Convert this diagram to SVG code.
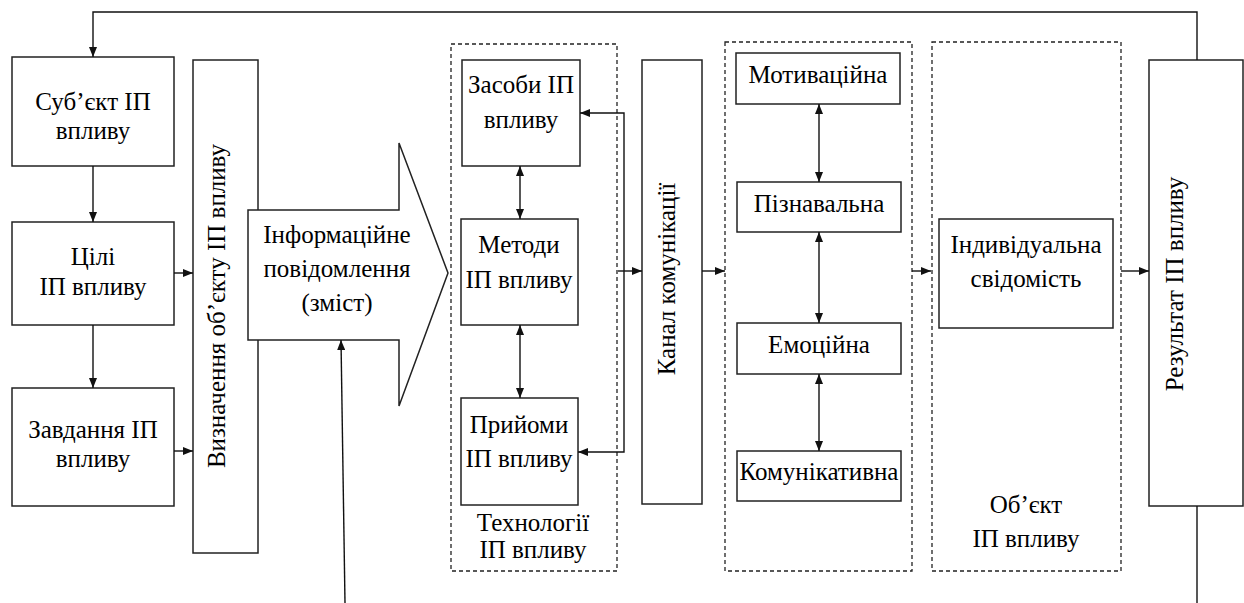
<svg xmlns="http://www.w3.org/2000/svg" width="1244" height="603" viewBox="0 0 1244 603">
<style>
.box{fill:#fff;stroke:#222;stroke-width:1.5}
.dash{fill:none;stroke:#222;stroke-width:1.3;stroke-dasharray:4 3}
.t{font-family:'Liberation Serif','Times New Roman',serif;font-size:25px;fill:#000;text-anchor:middle}
.c{fill:none;stroke:#111;stroke-width:1.4}
</style>
<defs>
<marker id="ah" markerUnits="userSpaceOnUse" markerWidth="10" markerHeight="8" refX="10" refY="4" orient="auto-start-reverse">
<path d="M0,0 L10,4 L0,8 z" fill="#111"/>
</marker>
</defs>
<rect width="1244" height="603" fill="#fff"/>

<g id="tech-group"><rect class="dash" x="451" y="44" width="166" height="527"/>
<text class="t" x="533" y="531">Технології</text><text class="t" x="533" y="558">ІП впливу</text></g>
<g id="psy-group"><rect class="dash" x="725" y="42" width="187" height="529"/></g>
<g id="object-group"><rect class="dash" x="932" y="42" width="189" height="529"/>
<text class="t" x="1026" y="513">Об’єкт</text><text class="t" x="1026" y="547">ІП впливу</text></g>

<g id="subject"><rect class="box" x="12" y="57" width="162" height="109"/>
<text class="t" x="93" y="110">Суб’єкт ІП</text><text class="t" x="93" y="139">впливу</text></g>
<g id="goals"><rect class="box" x="12" y="222" width="162" height="103"/>
<text class="t" x="93" y="265">Цілі</text><text class="t" x="93" y="295">ІП впливу</text></g>
<g id="tasks"><rect class="box" x="12" y="388" width="162" height="118"/>
<text class="t" x="93" y="438">Завдання ІП</text><text class="t" x="93" y="467">впливу</text></g>
<g id="define"><rect class="box" x="193" y="60" width="65" height="493"/>
<text class="t" transform="translate(225,306) rotate(-90)">Визначення об’єкту ІП впливу</text></g>
<g id="message"><polygon class="box" points="248,210 399,210 399,143 448,273 399,406 399,340 248,340"/>
<text class="t" x="337" y="243">Інформаційне</text><text class="t" x="337" y="277">повідомлення</text><text class="t" x="337" y="311">(зміст)</text></g>
<g id="means"><rect class="box" x="462" y="60" width="118" height="106"/>
<text class="t" x="521" y="93">Засоби ІП</text><text class="t" x="521" y="128">впливу</text></g>
<g id="methods"><rect class="box" x="461" y="219" width="117" height="106"/>
<text class="t" x="519" y="253">Методи</text><text class="t" x="519" y="288">ІП впливу</text></g>
<g id="techniques"><rect class="box" x="461" y="398" width="117" height="107"/>
<text class="t" x="519" y="433">Прийоми</text><text class="t" x="519" y="467">ІП впливу</text></g>
<g id="channel"><rect class="box" x="642" y="60" width="60" height="444"/>
<text class="t" transform="translate(675,279) rotate(-90)">Канал комунікації</text></g>
<g id="motiv"><rect class="box" x="736" y="53" width="164" height="51"/><text class="t" x="818" y="83">Мотиваційна</text></g>
<g id="cogn"><rect class="box" x="737" y="182" width="164" height="50"/><text class="t" x="819" y="212">Пізнавальна</text></g>
<g id="emot"><rect class="box" x="737" y="323" width="164" height="51"/><text class="t" x="819" y="353">Емоційна</text></g>
<g id="comm"><rect class="box" x="737" y="451" width="164" height="50"/><text class="t" x="819" y="480">Комунікативна</text></g>
<g id="consc"><rect class="box" x="939" y="219" width="174" height="109"/>
<text class="t" x="1026" y="253">Індивідуальна</text><text class="t" x="1026" y="287">свідомість</text></g>
<g id="result"><rect class="box" x="1149" y="60" width="94" height="446"/>
<text class="t" transform="translate(1183,284) rotate(-90)">Результат ІП впливу</text></g>

<g id="connectors">
<polyline class="c" points="1197,60 1197,12 93,12 93,57" marker-end="url(#ah)"/>
<line class="c" x1="1197" y1="506" x2="1197" y2="603"/>
<line class="c" x1="93" y1="166" x2="93" y2="222" marker-end="url(#ah)"/>
<line class="c" x1="93" y1="325" x2="93" y2="388" marker-end="url(#ah)"/>
<line class="c" x1="174" y1="273" x2="193" y2="273" marker-end="url(#ah)"/>
<line class="c" x1="174" y1="451" x2="193" y2="451" marker-end="url(#ah)"/>
<line class="c" x1="345" y1="603" x2="341" y2="340" marker-end="url(#ah)"/>
<line class="c" x1="520" y1="166" x2="520" y2="219" marker-start="url(#ah)" marker-end="url(#ah)"/>
<line class="c" x1="520" y1="325" x2="520" y2="398" marker-start="url(#ah)" marker-end="url(#ah)"/>
<polyline class="c" points="580,113 624,113 624,452 578,452" marker-start="url(#ah)" marker-end="url(#ah)"/>
<line class="c" x1="618" y1="271" x2="642" y2="271" marker-end="url(#ah)"/>
<line class="c" x1="702" y1="271" x2="725" y2="271" marker-end="url(#ah)"/>
<line class="c" x1="819" y1="104" x2="819" y2="182" marker-start="url(#ah)" marker-end="url(#ah)"/>
<line class="c" x1="819" y1="232" x2="819" y2="323" marker-start="url(#ah)" marker-end="url(#ah)"/>
<line class="c" x1="819" y1="374" x2="819" y2="451" marker-start="url(#ah)" marker-end="url(#ah)"/>
<line class="c" x1="912" y1="271" x2="931" y2="271" marker-end="url(#ah)"/>
<line class="c" x1="1121" y1="271" x2="1149" y2="271" marker-end="url(#ah)"/>
</g>
</svg>
